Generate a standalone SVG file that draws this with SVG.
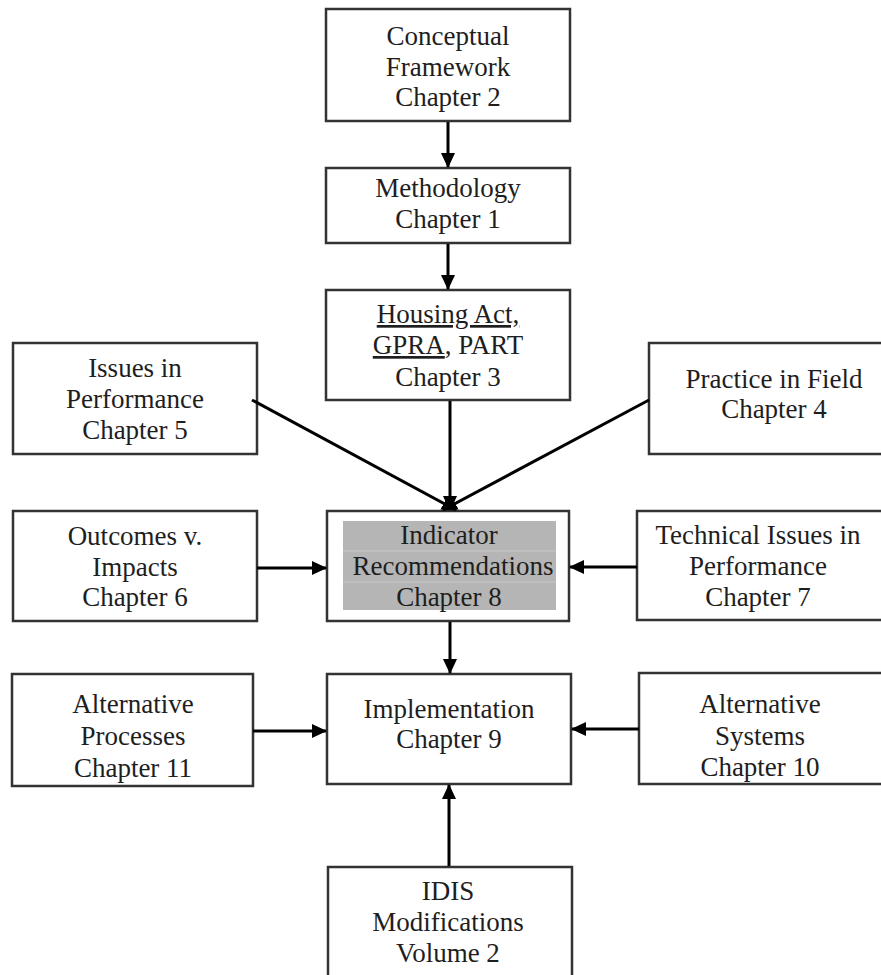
<svg xmlns="http://www.w3.org/2000/svg" width="881" height="975" viewBox="0 0 881 975">
<style>
  .box { fill: #ffffff; stroke: #333333; stroke-width: 2.5; }
  .lbl { font-family: "Liberation Serif", "Times New Roman", serif; font-size: 27px; fill: #1e1e1e; text-anchor: middle; }
  .conn { stroke: #000000; stroke-width: 3; fill: none; marker-end: url(#arrow); }
  .u { text-decoration: underline; }
</style>
<defs>
  <marker id="arrow" markerUnits="userSpaceOnUse" markerWidth="16" markerHeight="16" refX="14" refY="7.5" orient="auto">
    <path d="M0,0.5 L15,7.5 L0,14.5 Z" fill="#000000"/>
  </marker>
</defs>
<rect x="0" y="0" width="881" height="975" fill="#ffffff"/>

<g id="n_conceptual">
  <rect class="box" x="326" y="9" width="244" height="112"/>
  <text class="lbl" x="448" y="45">Conceptual</text>
  <text class="lbl" x="448" y="76">Framework</text>
  <text class="lbl" x="448" y="106">Chapter 2</text>
</g>
<g id="n_methodology">
  <rect class="box" x="326" y="168" width="244" height="75"/>
  <text class="lbl" x="448" y="197">Methodology</text>
  <text class="lbl" x="448" y="228">Chapter 1</text>
</g>
<g id="n_housing">
  <rect class="box" x="326" y="290" width="244" height="110"/>
  <text class="lbl" x="448" y="323"><tspan class="u">Housing Act,</tspan></text>
  <text class="lbl" x="448" y="354"><tspan class="u">GPRA</tspan>, PART</text>
  <text class="lbl" x="448" y="386">Chapter 3</text>
</g>
<g id="n_issues">
  <rect class="box" x="13" y="343" width="244" height="111"/>
  <text class="lbl" x="135" y="377">Issues in</text>
  <text class="lbl" x="135" y="408">Performance</text>
  <text class="lbl" x="135" y="439">Chapter 5</text>
</g>
<g id="n_practice">
  <rect class="box" x="649" y="343" width="244" height="111"/>
  <text class="lbl" x="774" y="388">Practice in Field</text>
  <text class="lbl" x="774" y="418">Chapter 4</text>
</g>
<g id="n_indicator">
  <rect class="box" x="327" y="511" width="242" height="110"/>
  <rect x="343" y="521" width="213" height="89" fill="#b5b5b5"/>
  <line x1="343" y1="551" x2="556" y2="551" stroke="#c9c9c9" stroke-width="1"/>
  <line x1="343" y1="582" x2="556" y2="582" stroke="#c9c9c9" stroke-width="1"/>
  <text class="lbl" x="449" y="544">Indicator</text>
  <text class="lbl" x="453" y="575">Recommendations</text>
  <text class="lbl" x="449" y="606">Chapter 8</text>
</g>
<g id="n_outcomes">
  <rect class="box" x="13" y="511" width="244" height="110"/>
  <text class="lbl" x="135" y="545">Outcomes v.</text>
  <text class="lbl" x="135" y="576">Impacts</text>
  <text class="lbl" x="135" y="606">Chapter 6</text>
</g>
<g id="n_technical">
  <rect class="box" x="637" y="511" width="250" height="109"/>
  <text class="lbl" x="758" y="544">Technical Issues in</text>
  <text class="lbl" x="758" y="575">Performance</text>
  <text class="lbl" x="758" y="606">Chapter 7</text>
</g>
<g id="n_altproc">
  <rect class="box" x="12" y="674" width="241" height="112"/>
  <text class="lbl" x="133" y="713">Alternative</text>
  <text class="lbl" x="133" y="745">Processes</text>
  <text class="lbl" x="133" y="777">Chapter 11</text>
</g>
<g id="n_implementation">
  <rect class="box" x="327" y="674" width="244" height="110"/>
  <text class="lbl" x="449" y="718">Implementation</text>
  <text class="lbl" x="449" y="748">Chapter 9</text>
</g>
<g id="n_altsys">
  <rect class="box" x="639" y="673" width="250" height="111"/>
  <text class="lbl" x="760" y="713">Alternative</text>
  <text class="lbl" x="760" y="745">Systems</text>
  <text class="lbl" x="760" y="776">Chapter 10</text>
</g>
<g id="n_idis">
  <rect class="box" x="328" y="867" width="244" height="120"/>
  <text class="lbl" x="448" y="900">IDIS</text>
  <text class="lbl" x="448" y="931">Modifications</text>
  <text class="lbl" x="448" y="962">Volume 2</text>
</g>

<g id="connectors">
  <line class="conn" x1="448" y1="122" x2="448" y2="167"/>
  <line class="conn" x1="448" y1="244" x2="448" y2="289"/>
  <line class="conn" x1="450" y1="401" x2="450" y2="510"/>
  <line class="conn" x1="252" y1="400" x2="456" y2="510"/>
  <line class="conn" x1="649" y1="400" x2="443" y2="510"/>
  <line class="conn" x1="257" y1="568" x2="326" y2="568"/>
  <line class="conn" x1="637" y1="567" x2="570" y2="567"/>
  <line class="conn" x1="450" y1="622" x2="450" y2="673"/>
  <line class="conn" x1="253" y1="731" x2="326" y2="731"/>
  <line class="conn" x1="639" y1="729" x2="572" y2="729"/>
  <line class="conn" x1="449" y1="866" x2="449" y2="785"/>
</g>
</svg>
